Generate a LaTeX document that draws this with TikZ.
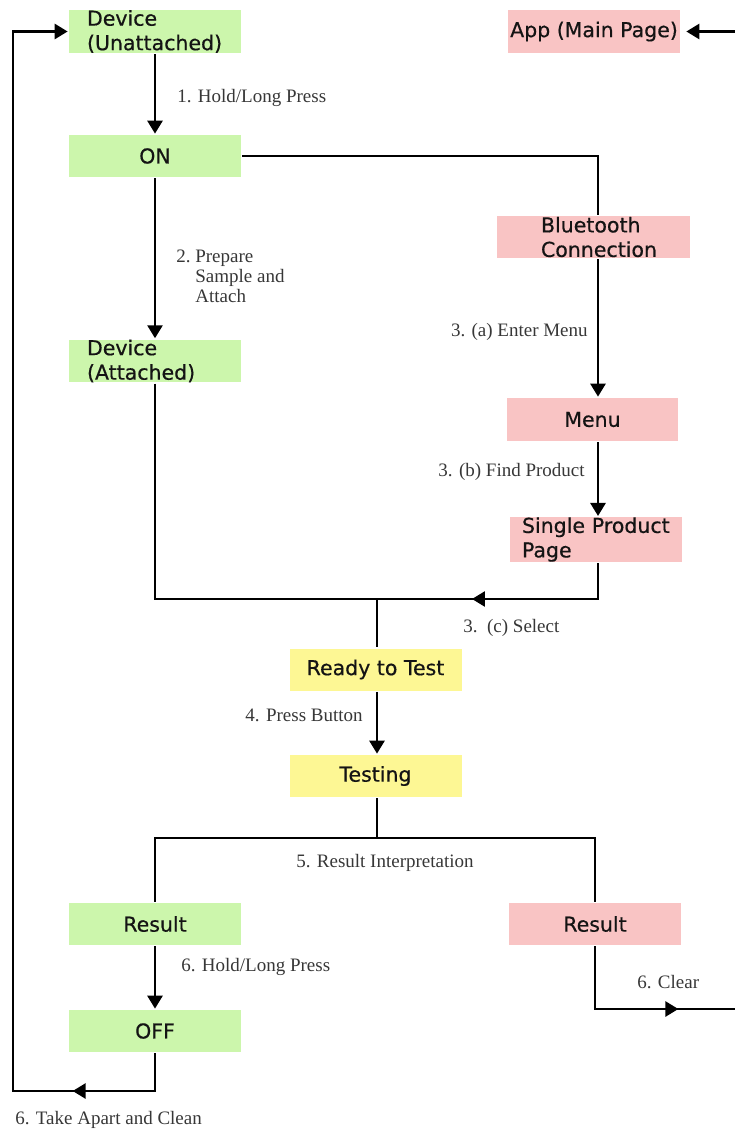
\documentclass[tikz,border=0pt]{standalone}
\usepackage{fontspec}
\setmainfont{Liberation Serif}
\newfontfamily\boxfont[FakeBold=0.5]{DejaVu Sans}
\usetikzlibrary{arrows.meta,decorations.markings,calc}
\definecolor{gbox}{RGB}{204,246,172}
\definecolor{pbox}{RGB}{249,196,196}
\definecolor{ybox}{RGB}{253,247,148}
\definecolor{lbl}{RGB}{55,55,55}
\begin{document}
\begin{tikzpicture}[x=1pt,y=-1pt,line width=2.7pt,
  >={Triangle[length=13pt,width=15pt]},
  box/.style={minimum height=42pt, inner sep=0pt, text=black!92,
    font=\boxfont\fontsize{20.5}{24.5}\selectfont},
  gb/.style={box, fill=gbox, minimum width=172pt},
  pb/.style={box, fill=pbox, minimum width=172pt},
  yb/.style={box, fill=ybox, minimum width=172pt},
  lab/.style={font=\fontsize{19}{20}\selectfont, text=lbl, inner sep=0pt},
  midarrow/.style={postaction={decorate}, decoration={markings,
    mark=at position #1 with {\arrow{Triangle[length=13pt,width=15pt]}}}}]
\useasboundingbox (0,0) rectangle (735,1134);
\clip (0,0) rectangle (735,1134);
% boxes
\node[gb, text width=172pt, align=left] (du) at (155,31.5) {\hspace*{18pt}Device\\\hspace*{18pt}(Unattached)};
\node[gb] (on) at (155,156) {ON};
\node[gb, text width=172pt, align=left] (da) at (155,361) {\hspace*{18pt}Device\\\hspace*{18pt}(Attached)};
\node[pb, minimum height=43pt] (app) at (594,31.5) {App (Main Page)};
\node[pb, text width=193pt, align=left] (bt) at (593.5,237) {\hspace*{44pt}Bluetooth\\\hspace*{44pt}Connection};
\node[pb, minimum width=171pt, minimum height=43pt] (menu) at (592.5,419.5) {Menu};
\node[pb, text width=172pt, align=left] (spp) at (596,539.5) {\hspace*{12pt}Single Product\\\hspace*{12pt}Page};
\node[yb] (rtt) at (375.5,669.5) {Ready to Test};
\node[yb] (test) at (375.5,776) {Testing};
\node[gb] (resg) at (155,924) {Result};
\node[gb] (off) at (155,1031) {OFF};
\node[pb] (resp) at (595,924) {Result};
% helper coordinates
\coordinate (rc) at (598,0);
\coordinate (j) at (377,599);
\coordinate (split) at (377,838);
\coordinate (lb) at (13,1091);
\coordinate (rb) at (745,1009);
% connectors
\draw[->] (du) -- (on);
\draw[->] (on) -- (da);
\draw (on.east) -| (rc |- bt.north);
\draw[->] (rc |- bt.south) -- (rc |- menu.north);
\draw[->] (rc |- menu.south) -- (rc |- spp.north);
\draw[midarrow=162pt] (rc |- spp.south) |- (j);
\draw (da) |- (j);
\draw (j) -- (j |- rtt.north);
\draw[->] (j |- rtt.south) -- (j |- test.north);
\draw (j |- test.south) -- (split);
\draw (split) -| (resg.north);
\draw (split) -| (resp.north);
\draw[->] (resg) -- (off);
\draw[midarrow=120pt, ->] (off.south) |- (lb) |- (du.west);
\draw[midarrow=146pt, ->, shorten >=5pt] (resp.south) |- (rb) |- (app.east);
% labels
\node[lab, anchor=west] (l1) at (176,98) {1. Hold/Long Press};
\node[lab, anchor=north west, align=left] (l2) at (175,249) {2.~Prepare\\\hphantom{2.~}Sample and\\\hphantom{2.~}Attach};
\node[lab, anchor=east] (l3a) at (589,332) {3. (a) Enter Menu};
\node[lab, anchor=east] (l3b) at (586,472) {3. (b) Find Product};
\node[lab, anchor=west] (l3c) at (462,628) {3.\ \ (c) Select};
\node[lab, anchor=east] (l4) at (364,715) {4. Press Button};
\node[lab, anchor=west] (l5) at (295,863) {5. Result Interpretation};
\node[lab, anchor=west] (l6a) at (180,967) {6. Hold/Long Press};
\node[lab, anchor=west] (l6b) at (636,982) {6. Clear};
\node[lab, anchor=west] (l6c) at (14,1120) {6. Take Apart and Clean};
\end{tikzpicture}
\end{document}
